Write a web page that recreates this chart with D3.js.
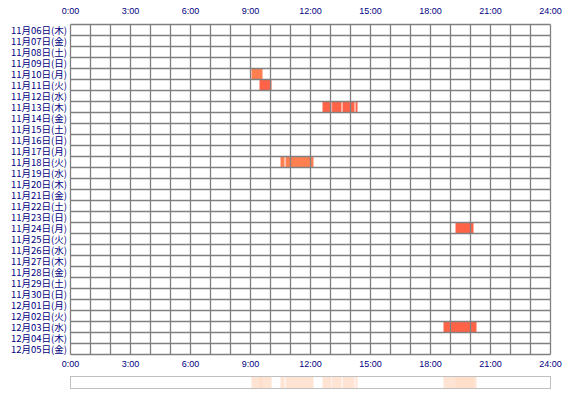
<!DOCTYPE html>
<html><head><meta charset="utf-8">
<script src="https://cdn.jsdelivr.net/npm/d3@7"></script>
<style>body{margin:0;background:#fff}text{font-family:"Noto Sans CJK JP",sans-serif;font-size:9.5px;fill:#000080}</style>
</head><body>
<svg id="chart" width="570" height="400"></svg>
<script>
const weekdays = ["日","月","火","水","木","金","土"];
const startDate = new Date(2025, 10, 6);
const dayCount = 30;
const hourTicks = [0, 3, 6, 9, 12, 15, 18, 21, 24];
// sessions: [day index, start hour, end hour, colour]
const sessions = [
  [4, 9.05, 9.6, "#ff7f50"],
  [5, 9.45, 10.05, "#ff6347"],
  [7, 12.6, 13.05, "#ff6347"],
  [7, 13.08, 13.55, "#ff6347"],
  [7, 13.6, 14.2, "#ff6347"],
  [7, 14.25, 14.35, "#ff6347"],
  [12, 10.5, 10.7, "#ff7f50"],
  [12, 10.75, 12.15, "#ff7f50"],
  [18, 19.25, 20.15, "#ff6347"],
  [27, 18.65, 20.3, "#ff6347"]
];

const days = d3.range(dayCount).map(i => {
  const d = new Date(startDate); d.setDate(d.getDate() + i);
  return (d.getMonth() + 1) + "月" + String(d.getDate()).padStart(2, "0") + "日(" + weekdays[d.getDay()] + ")";
});

const svg = d3.select("#chart");
const x = d3.scaleLinear().domain([0, 24]).range([70.5, 550.5]);
const y = d3.scaleBand().domain(d3.range(dayCount)).range([24.5, 354.5]);

svg.append("g").selectAll("rect").data(sessions).join("rect")
  .attr("x", d => x(d[1])).attr("width", d => x(d[2]) - x(d[1]))
  .attr("y", d => y(d[0])).attr("height", y.bandwidth())
  .attr("fill", d => d[3]);

const grid = svg.append("g").attr("stroke", "#808080").attr("stroke-width", 1.3);
grid.selectAll(".v").data(d3.range(25)).join("line")
  .attr("x1", d => x(d)).attr("x2", d => x(d)).attr("y1", 24.5).attr("y2", 354.5);
grid.selectAll(".h").data(d3.range(dayCount + 1)).join("line")
  .attr("x1", 70.5).attr("x2", 550.5)
  .attr("y1", d => 24.5 + d * y.step()).attr("y2", d => 24.5 + d * y.step());

svg.append("g").selectAll("text").data(days).join("text")
  .attr("x", 67).attr("y", (d, i) => y(i) + y.bandwidth() / 2 + 3.5)
  .attr("text-anchor", "end").text(d => d);

[14, 367].forEach(ty => {
  svg.append("g").selectAll("text").data(hourTicks).join("text")
    .attr("x", d => x(d)).attr("y", ty).attr("text-anchor", "middle")
    .style("font-family", "Liberation Sans, sans-serif").style("font-size", "9px")
    .text(d => d + ":00");
});

svg.append("g").selectAll("rect").data(sessions).join("rect")
  .attr("x", d => x(d[1])).attr("width", d => x(d[2]) - x(d[1]))
  .attr("y", 376).attr("height", 12)
  .attr("fill", "#ffdcc8").attr("opacity", 0.8);
svg.append("rect").attr("x", 70.5).attr("y", 376.5).attr("width", 480).attr("height", 12)
  .attr("fill", "none").attr("stroke", "#c0c0c0");
</script>
</body></html>
